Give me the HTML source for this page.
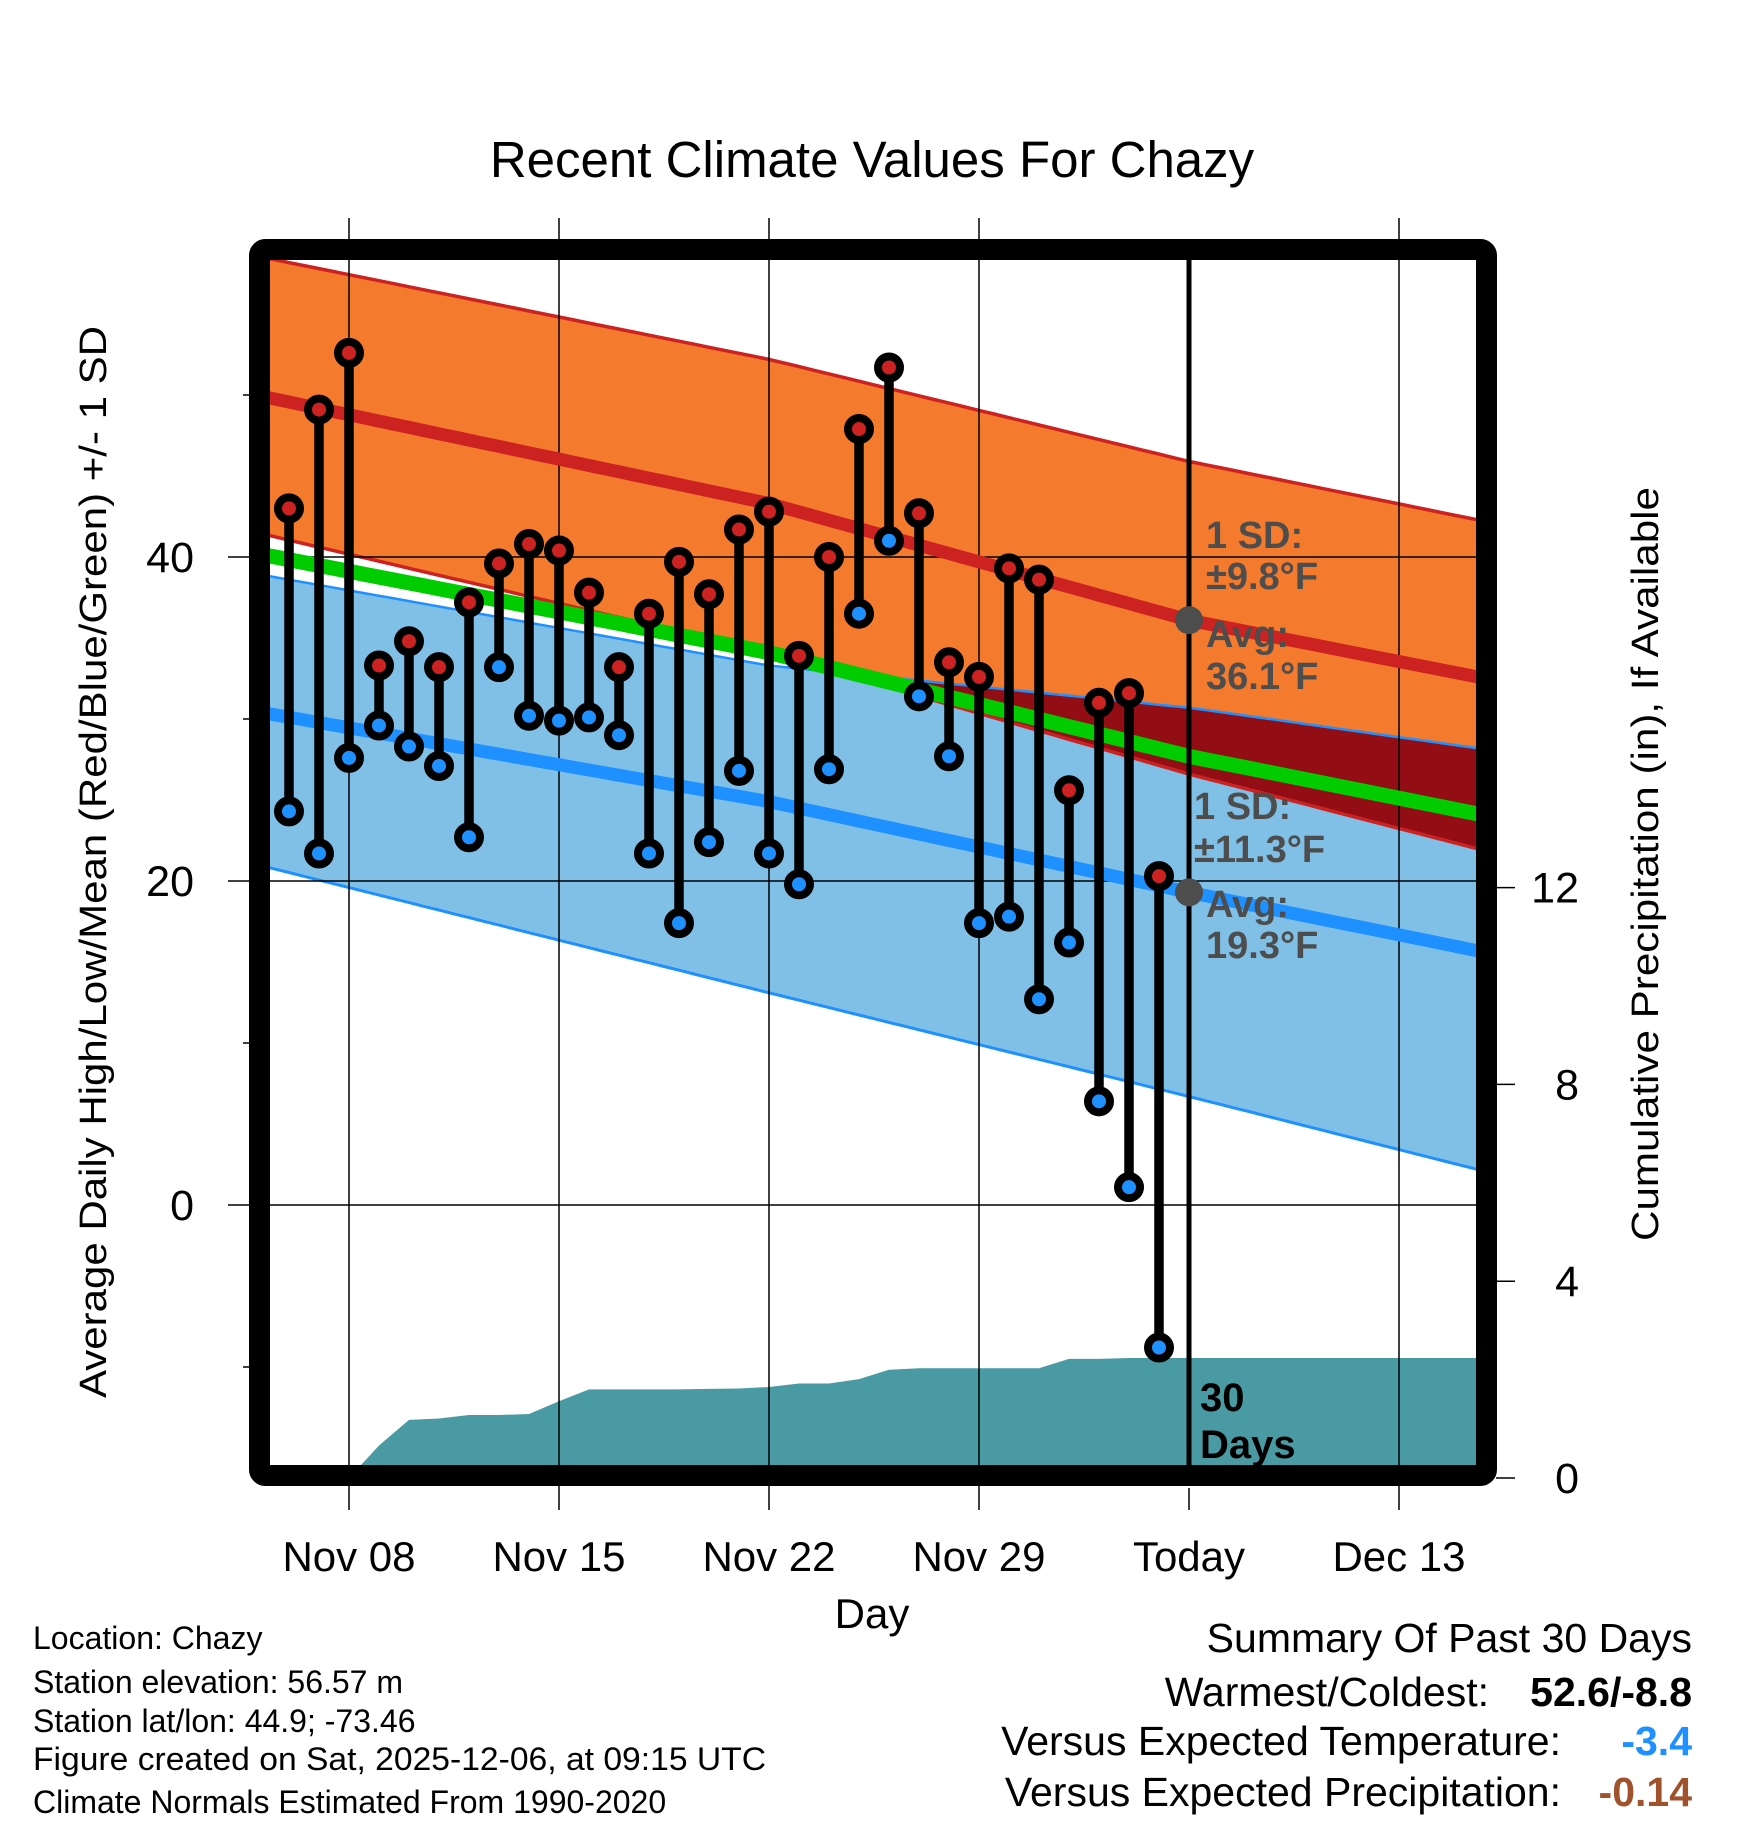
<!DOCTYPE html>
<html><head><meta charset="utf-8">
<style>
html,body{margin:0;padding:0;background:#fff;}
svg{display:block;font-family:"Liberation Sans",Arial,sans-serif;}
</style></head>
<body>
<svg id="chart" width="1748" height="1828" viewBox="0 0 1748 1828" xmlns="http://www.w3.org/2000/svg">
<defs><clipPath id="plotclip"><rect x="270" y="260" width="1207" height="1206"/></clipPath></defs>
<g id="plot" clip-path="url(#plotclip)"></g>
<g id="over"></g>
</svg>
<script>
// ---- data ----
const dates = ["Nov 06","Nov 07","Nov 08","Nov 09","Nov 10","Nov 11","Nov 12","Nov 13","Nov 14","Nov 15","Nov 16","Nov 17","Nov 18","Nov 19","Nov 20","Nov 21","Nov 22","Nov 23","Nov 24","Nov 25","Nov 26","Nov 27","Nov 28","Nov 29","Nov 30","Dec 01","Dec 02","Dec 03","Dec 04","Dec 05"];
const highs = [43.0,49.1,52.6,33.3,34.8,33.2,37.2,39.6,40.8,40.4,37.8,33.2,36.5,39.7,37.7,41.7,42.8,33.9,40.0,47.9,51.7,42.7,33.5,32.6,39.3,38.6,25.6,31.0,31.6,20.3];
const lows = [24.3,21.7,27.6,29.6,28.3,27.1,22.7,33.2,30.2,29.9,30.1,29.0,21.7,17.4,22.4,26.8,21.7,19.8,26.9,36.5,41.0,31.4,27.7,17.4,17.8,12.7,16.2,6.4,1.1,-8.8];
const precip = [0,0,0,0.66,1.18,1.21,1.28,1.28,1.30,1.56,1.80,1.80,1.80,1.80,1.81,1.82,1.85,1.92,1.92,2.01,2.20,2.23,2.23,2.23,2.23,2.23,2.42,2.42,2.44,2.44];
// normals knots (day offsets from Nov 08)
const normDays = [-2.6,14,28,37.6];
const avgHigh = [49.8,43.3,36.1,32.6];
const highUpper = [58.4,52.2,45.9,42.3];
const highLower = [41.3,34.1,26.6,22.0];
const avgLow = [30.3,24.9,19.3,15.7];
const lowUpper = [38.8,33.3,30.7,28.2];
const lowLower = [20.8,13.1,6.7,2.2];
const xTickLabels = ["Nov 08","Nov 15","Nov 22","Nov 29","Today","Dec 13"];
const xTickDays = [0,7,14,21,28,35];
const yTicks = [40,20,0];
const yMinorTicks = [50,30,10,-10];
const pTicks = [0,4,8,12];
const todayDay = 28;
const todayHigh = 36.1, todayLow = 19.3;

// ---- scales ----
const X = d => 349 + d*30;
const Y = t => 557 + (40 - t)*16.2;
const P = p => 1478 - p*49.2;
const L = 270, R = 1477, T = 260, B = 1466;
const NS = "http://www.w3.org/2000/svg";
const plot = document.getElementById('plot');
const over = document.getElementById('over');
function mk(tag, attrs, parent, text){
  const e = document.createElementNS(NS, tag);
  for (const k in attrs) e.setAttribute(k, attrs[k]);
  if (text !== undefined) e.textContent = text;
  parent.appendChild(e); return e;
}
function interp(vals, d){
  for (let i=0;i<normDays.length-1;i++){
    if (d <= normDays[i+1] || i===normDays.length-2){
      const f = (d-normDays[i])/(normDays[i+1]-normDays[i]);
      return vals[i] + f*(vals[i+1]-vals[i]);
    }
  }
}
const sampleDays = [];
for (let d=-3; d<=38.01; d+=0.5) sampleDays.push(d);
function linePts(vals){ return sampleDays.map(d => X(d).toFixed(1)+','+Y(interp(vals,d)).toFixed(1)); }
function bandPts(up, lo){ return linePts(up).concat(linePts(lo).reverse()).join(' '); }

let e;
e = mk('polygon',{points:bandPts(highUpper,highLower),fill:'#f47a2e'},plot);
 
e = mk('polygon',{points:bandPts(lowUpper,lowLower),fill:'#80c0e6'},plot);
 
const ovTop = sampleDays.map(d => X(d).toFixed(1)+','+Y(interp(lowUpper,d)).toFixed(1));
const ovBot = sampleDays.map(d => { const a=interp(lowUpper,d), b=interp(highLower,d); return X(d).toFixed(1)+','+Y(Math.min(a,b)).toFixed(1);}).reverse();
e = mk('polygon',{points:ovTop.concat(ovBot).join(' '),fill:'#930d14'},plot);
 
[[highUpper,'#cc2222',3.5,'high-upper-sd-line'],[highLower,'#cc2222',3.5,'high-lower-sd-line'],[lowUpper,'#1e90ff',2.5,'low-upper-sd-line'],[lowLower,'#1e90ff',3,'low-lower-sd-line']].forEach(a=>{
  e = mk('polyline',{points:linePts(a[0]).join(' '),fill:'none',stroke:a[1],'stroke-width':a[2]},plot);
   
});
const pp = [X(-3)+','+P(0)];
dates.forEach((dt,i)=>{ pp.push(X(i-2)+','+P(precip[i]).toFixed(1)); });
pp.push(X(38)+','+P(precip[precip.length-1]).toFixed(1));
pp.push(X(38)+','+P(0));
e = mk('polygon',{points:pp.join(' '),fill:'#4a9aa3'},plot);
 
xTickDays.forEach((d,i)=>{
  if (i===4) return;
  e = mk('line',{x1:X(d),x2:X(d),y1:218,y2:1510,stroke:'#000','stroke-width':1.5},over);
   
});
yTicks.forEach(t=>{
  e = mk('line',{x1:228,x2:R,y1:Y(t),y2:Y(t),stroke:'#000','stroke-width':1.5},over);
   
});
yMinorTicks.forEach(t=>{
  e = mk('line',{x1:243,x2:252,y1:Y(t),y2:Y(t),stroke:'#000','stroke-width':1.5},over);
   
});
const pc = document.createElementNS(NS,'g'); pc.setAttribute('clip-path','url(#plotclip)'); over.appendChild(pc);
e = mk('polyline',{points:linePts(avgHigh).join(' '),fill:'none',stroke:'#cc2222','stroke-width':13},pc);
 
e = mk('polyline',{points:linePts(avgLow).join(' '),fill:'none',stroke:'#1e90ff','stroke-width':13},pc);
 
const meanPts = sampleDays.map(d => X(d).toFixed(1)+','+Y((interp(avgHigh,d)+interp(avgLow,d))/2).toFixed(1));
e = mk('polyline',{points:meanPts.join(' '),fill:'none',stroke:'#00cc00','stroke-width':15},pc);
 
e = mk('line',{x1:X(todayDay),x2:X(todayDay),y1:255,y2:1470,stroke:'#000','stroke-width':5},over);
 
e = mk('line',{x1:X(todayDay),x2:X(todayDay),y1:1488,y2:1510,stroke:'#000','stroke-width':1.5},over);
 
dates.forEach((dt,i)=>{
  const x = X(i-2);
  e = mk('line',{x1:x,x2:x,y1:Y(highs[i]),y2:Y(lows[i]),stroke:'#000','stroke-width':9.5},over);
   
});
dates.forEach((dt,i)=>{
  const x = X(i-2);
  e = mk('circle',{cx:x,cy:Y(highs[i]),r:11,fill:'#cc2222',stroke:'#000','stroke-width':8},over);
   
  e = mk('circle',{cx:x,cy:Y(lows[i]),r:11,fill:'#1e90ff',stroke:'#000','stroke-width':8},over);
   
});
e = mk('circle',{cx:X(todayDay),cy:Y(todayHigh),r:14,fill:'#4d4d4d'},over);
 
e = mk('circle',{cx:X(todayDay),cy:Y(todayLow),r:14,fill:'#4d4d4d'},over);
 
e = mk('rect',{x:259.5,y:249.5,width:1227,height:1226,rx:6,fill:'none',stroke:'#000','stroke-width':21},over);
 
pTicks.forEach(p=>{
  e = mk('line',{x1:1496,x2:1515,y1:P(p),y2:P(p),stroke:'#000','stroke-width':1.5},over);
   
  e = mk('text',{x:1579,y:P(p)+15,'font-size':43,'text-anchor':'end'},over,String(p));
   
});
yTicks.forEach(t=>{
  e = mk('text',{x:194,y:Y(t)+15,'font-size':43,'text-anchor':'end'},over,String(t));
   
});
xTickLabels.forEach((lab,i)=>{
  e = mk('text',{x:X(xTickDays[i]),y:1571,'font-size':42,'text-anchor':'middle'},over,lab);
   
});
</script>
<svg style="position:absolute;left:0;top:0" width="1748" height="1828" viewBox="0 0 1748 1828" xmlns="http://www.w3.org/2000/svg" font-family="Liberation Sans, Arial, sans-serif">
<text x="872" y="177" font-size="51" text-anchor="middle">Recent Climate Values For Chazy</text>
<text x="872" y="1628" font-size="42" text-anchor="middle">Day</text>
<text transform="translate(106,862) rotate(-90)" font-size="38" text-anchor="middle" textLength="1072" lengthAdjust="spacingAndGlyphs">Average Daily High/Low/Mean (Red/Blue/Green) +/- 1 SD</text>
<text transform="translate(1658,864) rotate(-90)" font-size="38" text-anchor="middle" textLength="754" lengthAdjust="spacingAndGlyphs">Cumulative Precipitation (in), If Available</text>
<g font-size="38" font-weight="bold" fill="#4d4d4d">
<text x="1206" y="548">1 SD:</text><text x="1206" y="589">±9.8°F</text><text x="1206" y="647">Avg:</text><text x="1206" y="689">36.1°F</text>
</g>
<g font-size="38" font-weight="bold" fill="#4d4d4d">
<text x="1194" y="819">1 SD:</text><text x="1194" y="862">±11.3°F</text><text x="1206" y="917">Avg:</text><text x="1206" y="958">19.3°F</text>
</g>
<g font-size="40" font-weight="bold">
<text x="1200" y="1411">30</text><text x="1200" y="1458">Days</text>
</g>
<g font-size="32">
<text x="33" y="1649">Location: Chazy</text>
<text x="33" y="1693">Station elevation: 56.57 m</text>
<text x="33" y="1732">Station lat/lon: 44.9; -73.46</text>
<text x="33" y="1770" textLength="733" lengthAdjust="spacingAndGlyphs">Figure created on Sat, 2025-12-06, at 09:15 UTC</text>
<text x="33" y="1813">Climate Normals Estimated From 1990-2020</text>
</g>
<g font-size="41" text-anchor="end">
<text x="1692" y="1652">Summary Of Past 30 Days</text>
<text x="1489" y="1706">Warmest/Coldest:</text>
<text x="1692" y="1706" font-weight="bold">52.6/-8.8</text>
<text x="1561" y="1755">Versus Expected Temperature:</text>
<text x="1692" y="1755" font-weight="bold" fill="#1e90ff">-3.4</text>
<text x="1561" y="1806">Versus Expected Precipitation:</text>
<text x="1692" y="1806" font-weight="bold" fill="#a0522d">-0.14</text>
</g>
</svg>
</body></html>
